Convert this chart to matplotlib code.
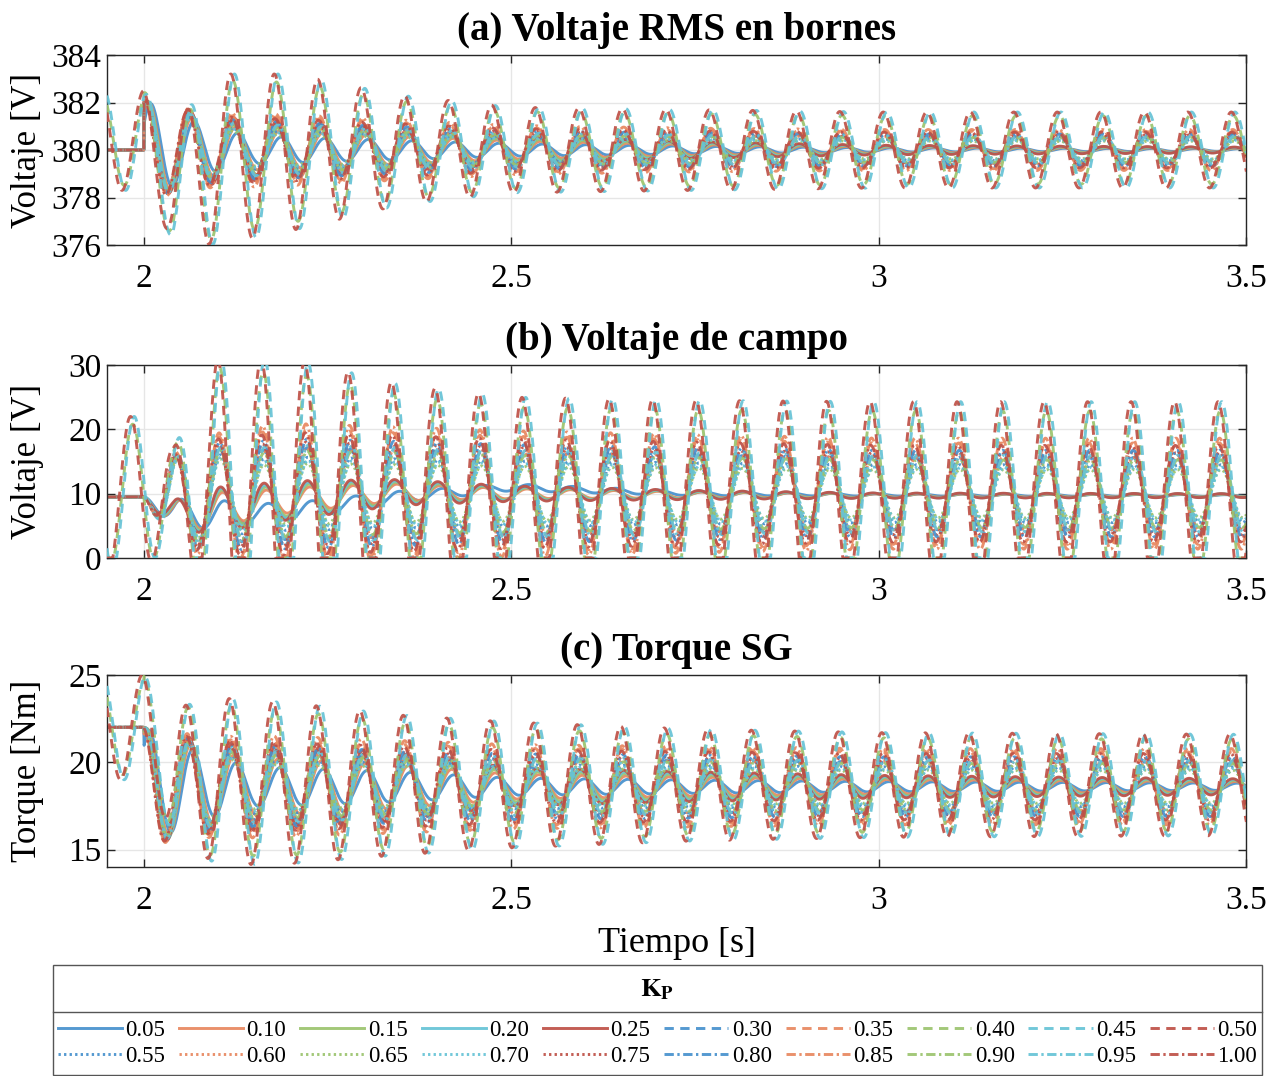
import numpy as np
import matplotlib
matplotlib.use('Agg')
import matplotlib.pyplot as plt
from matplotlib.lines import Line2D
from matplotlib.patches import Rectangle

plt.rcParams['font.family'] = 'Liberation Serif'
plt.rcParams['mathtext.fontset'] = 'stix'

# Ganancias proporcionales del regulador
kp = [0.05, 0.10, 0.15, 0.20, 0.25, 0.30, 0.35, 0.40, 0.45, 0.50,
      0.55, 0.60, 0.65, 0.70, 0.75, 0.80, 0.85, 0.90, 0.95, 1.00]
kp_labels = ['%.2f' % k for k in kp]

# Tipo de respuesta: 0 amortiguada, 1 oscilacion media, 2 oscilacion sostenida
grupo = [0, 0, 0, 0, 0, 1, 1, 2, 2, 2, 1, 1, 1, 1, 1, 1, 1, 1, 1, 1]
ganancia = [0.45, 0.65, 0.8, 0.9, 1.0, 0.75, 1.05, 0.9, 1.0, 1.0,
            0.6, 0.75, 0.5, 0.55, 0.85, 0.9, 1.15, 0.7, 0.8, 1.0]
retardo = [0.010, 0.007, 0.006, 0.005, 0.004, 0.003, 0.002, 0.003, 0.005, 0.0,
           0.004, 0.003, 0.004, 0.005, 0.002, 0.003, 0.002, 0.004, 0.005, 0.001]

periodo = 0.0592
t_env = [2.00, 2.04, 2.10, 2.20, 2.35, 2.50, 2.75, 3.00, 3.50]

# (a) Voltaje RMS en bornes
v_base = {0: [380.0] * 9, 1: [380.0] * 9,
          2: [380.4, 378.6, 379.6, 379.9, 380.0, 380.0, 380.0, 380.0, 380.0]}
v_amp = {0: [2.1, 1.8, 1.4, 1.2, 0.9, 0.6, 0.35, 0.2, 0.12],
         1: [2.1, 1.8, 1.4, 1.3, 1.1, 0.9, 0.8, 0.75, 0.75],
         2: [2.1, 2.4, 3.6, 3.3, 2.3, 1.8, 1.7, 1.6, 1.6]}
v_pre = {0: (380.0, 0.0), 1: (380.0, 0.0), 2: (380.4, 2.1)}

# (b) Voltaje de campo
f_base = {0: [9.5, 6.5, 7.5, 9.0, 10.2, 10.0, 9.8, 9.7, 9.7],
          1: [9.5, 9.0, 9.5, 10.0, 10.0, 10.0, 10.0, 10.0, 10.0],
          2: [10.0] * 9}
f_base_005 = [9.5, 7.0, 6.8, 7.2, 9.5, 11.0, 10.0, 9.8, 9.7]
f_amp = {0: [0.0, 2.5, 3.5, 3.0, 2.0, 1.2, 0.7, 0.4, 0.3],
         1: [0.0, 7.0, 9.0, 9.5, 9.0, 8.5, 8.0, 7.5, 7.5],
         2: [12.0, 7.0, 21.0, 21.0, 17.0, 15.0, 14.5, 14.3, 14.3]}
f_pre = {0: (9.5, 0.0), 1: (9.5, 0.0), 2: (10.0, 12.0)}

# (c) Torque del generador
q_base = {0: [18.6] * 9, 1: [18.6] * 9,
          2: [22.0, 19.5, 18.9, 18.8, 18.7, 18.7, 18.7, 18.7, 18.7]}
q_amp = {0: [3.4, 3.0, 2.6, 2.4, 1.9, 1.1, 0.85, 0.65, 0.45],
         1: [3.4, 3.0, 2.6, 2.5, 2.3, 2.1, 2.0, 1.9, 1.9],
         2: [3.0, 3.6, 4.8, 4.6, 4.0, 3.6, 3.2, 3.0, 2.9]}
q_pre = {0: (22.0, 0.0), 1: (22.0, 0.0), 2: (22.0, 3.0)}

# instante de cresta de referencia en cada variable
t_cresta = [2.0, 1.982, 1.998]

colores = ['#4691CD', '#E8875F', '#9BC46E', '#66C3D6', '#BE5046']
estilos = ['-', (0, (3.2, 2.2)), (0, (0.8, 1.1)), (0, (3.2, 1.2, 0.8, 1.2))]

t = np.arange(1.95, 3.5005, 0.0005)


def senal(fila_base, fila_amp, pre, g, lag, t0):
    post = t >= 2.0
    w = np.clip((t - 2.0) / 0.15, 0, 1)
    base = np.where(post, np.interp(t, t_env, fila_base), pre[0])
    amp = np.where(post, np.interp(t, t_env, fila_amp) * (1 + (g - 1) * w), pre[1] * g)
    return base + amp * np.cos(2 * np.pi * (t - t0 - lag) / periodo)


fig = plt.figure(figsize=(12.82, 10.76), dpi=100)
W, H = 1282, 1076
ejes = []
for top, bot in [(55, 245), (365, 558), (675, 867)]:
    ejes.append(fig.add_axes([107 / W, 1 - bot / H, 1139 / W, (bot - top) / H]))

paneles = [(v_base, v_amp, v_pre), (f_base, f_amp, f_pre), (q_base, q_amp, q_pre)]
lineas = []
for j, ax in enumerate(ejes):
    fb, fa, fp = paneles[j]
    for i, k in enumerate(kp):
        gr = grupo[i]
        fila = fb[gr]
        if j == 1 and i == 0:
            fila = f_base_005
        y = senal(fila, fa[gr], fp[gr], ganancia[i], retardo[i], t_cresta[j])
        if j == 1:
            y = np.maximum(y, 0.0)
        ln, = ax.plot(t, y, color=colores[i % 5], ls=estilos[i // 5], lw=2.1,
                      alpha=0.92, zorder=3 if gr == 2 else 2)
        if j == 0:
            lineas.append(ln)

titulos = ['(a) Voltaje RMS en bornes', '(b) Voltaje de campo', '(c) Torque SG']
ylabels = ['Voltaje [V]', 'Voltaje [V]', 'Torque [Nm]']
ylims = [(376, 384), (0, 30), (14, 25)]
yticks = [[376, 378, 380, 382, 384], [0, 10, 20, 30], [15, 20, 25]]
for ax, tit, yl, lim, yt in zip(ejes, titulos, ylabels, ylims, yticks):
    ax.set_xlim(1.95, 3.5)
    ax.set_ylim(*lim)
    ax.set_yticks(yt)
    ax.set_xticks([2, 2.5, 3, 3.5])
    ax.set_xticklabels(['2', '2.5', '3', '3.5'])
    ax.set_title(tit, fontsize=28, fontweight='bold', pad=11)
    ax.set_ylabel(yl, fontsize=25)
    ax.yaxis.set_label_coords(-0.055, 0.5)
    ax.grid(True, color='#e6e6e6', lw=1.0)
    ax.set_axisbelow(True)
    ax.tick_params(direction='in', top=True, right=True, length=6, width=1,
                   labelsize=24, color='#262626')
    ax.tick_params(axis='x', pad=13)
    ax.tick_params(axis='y', pad=4)
    for s in ax.spines.values():
        s.set_color('#262626')
        s.set_linewidth(1.0)

ejes[2].set_xlabel('Tiempo [s]', fontsize=26, labelpad=8)

# Leyenda con recuadro y titulo
x0, x1, ya, yb, ysep = 53, 1262, 965, 1075, 1012
fig.add_artist(Rectangle((x0 / W, 1 - yb / H), (x1 - x0) / W, (yb - ya) / H,
                         transform=fig.transFigure, fill=False, ec='#555555', lw=1.0))
fig.add_artist(Line2D([x0 / W, x1 / W], [1 - ysep / H, 1 - ysep / H],
                      transform=fig.transFigure, color='#555555', lw=1.0))
fig.text((x0 + x1) / 2 / W, 1 - 990 / H, r'$\mathbf{K_P}$', ha='center', va='center',
         fontsize=19)
orden = [n for par in zip(range(10), range(10, 20)) for n in par]
fig.legend([lineas[n] for n in orden], [kp_labels[n] for n in orden],
           loc='center', bbox_to_anchor=(x0 / W, 1 - yb / H, (x1 - x0) / W, (yb - ysep) / H),
           mode='expand', ncol=10, frameon=False, fontsize=16.5, handlelength=2.8,
           handletextpad=0.15, columnspacing=0.5, labelspacing=0.25, borderpad=0.2,
           borderaxespad=0.0)

fig.savefig('out.png', dpi=100)
